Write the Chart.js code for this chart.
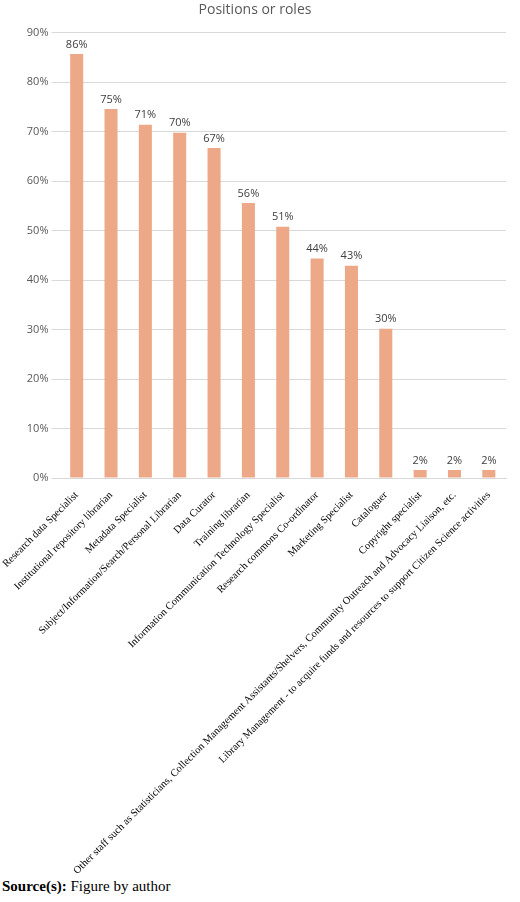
<!DOCTYPE html>
<html>
<head>
<meta charset="utf-8">
<script src="https://cdn.jsdelivr.net/npm/chart.js@4"></script>
<style>
  body { margin: 0; background: #fff; }
  #wrap { position: relative; width: 520px; height: 880px; }
  #source { font-family: "Liberation Serif", serif; font-size: 15px; color: #000; margin: -2px 0 0 2px; }
</style>
</head>
<body>
<div id="wrap"><canvas id="chart"></canvas></div>
<div id="source"><b>Source(s):</b> Figure by author</div>
<script>
const categories = [
    'Research data Specialist',
    'Institutional repository librarian',
    'Metadata Specialist',
    'Subject/Information/Search/Personal Librarian',
    'Data Curator',
    'Training librarian',
    'Information Communication Technology Specialist',
    'Research commons Co-ordinator',
    'Marketing Specialist',
    'Cataloguer',
    'Copyright specialist',
    'Other staff such as Statisticians, Collection Management Assistants/Shelvers, Community Outreach and Advocacy Liaison, etc.',
    'Library Management - to acquire funds and resources to support Citizen Science activities'
];
const values = [85.7, 74.6, 71.4, 69.8, 66.7, 55.6, 50.8, 44.4, 42.9, 30.2, 1.6, 1.6, 1.6];
const valueLabels = ['86%', '75%', '71%', '70%', '67%', '56%', '51%', '44%', '43%', '30%', '2%', '2%', '2%'];

const barLabels = {
    id: 'barLabels',
    afterDatasetsDraw(chart) {
        const ctx = chart.ctx;
        ctx.save();
        ctx.font = '11px "Open Sans", sans-serif';
        ctx.fillStyle = '#404040';
        ctx.textAlign = 'center';
        ctx.textBaseline = 'bottom';
        chart.getDatasetMeta(0).data.forEach((bar, i) => {
            ctx.fillText(valueLabels[i], bar.x, bar.y - 4);
        });
        ctx.restore();
    }
};

new Chart(document.getElementById('chart').getContext('2d'), {
    type: 'bar',
    data: {
        labels: categories,
        datasets: [{
            data: values,
            backgroundColor: '#eda987',
            barPercentage: 0.38,
            categoryPercentage: 1
        }]
    },
    options: {
        responsive: true,
        maintainAspectRatio: false,
        animation: false,
        layout: { padding: { left: 4, right: 14, top: 2 } },
        plugins: {
            legend: { display: false },
            tooltip: { enabled: false },
            title: {
                display: true,
                text: 'Positions or roles',
                color: '#595959',
                font: { size: 14, family: '"Open Sans", sans-serif', weight: 'normal' },
                padding: { top: 0, bottom: 14 }
            }
        },
        scales: {
            y: {
                min: 0,
                max: 90,
                ticks: {
                    stepSize: 10,
                    color: '#595959',
                    font: { size: 11, family: '"Open Sans", sans-serif' },
                    callback: v => v + '%'
                },
                grid: { color: '#d9d9d9' },
                border: { display: false }
            },
            x: {
                ticks: {
                    autoSkip: false,
                    maxRotation: 45,
                    minRotation: 45,
                    color: '#000',
                    font: { size: 10.5, family: '"Liberation Serif", serif' }
                },
                grid: { display: false },
                border: { color: '#d9d9d9' }
            }
        }
    },
    plugins: [barLabels]
});
</script>
</body>
</html>
